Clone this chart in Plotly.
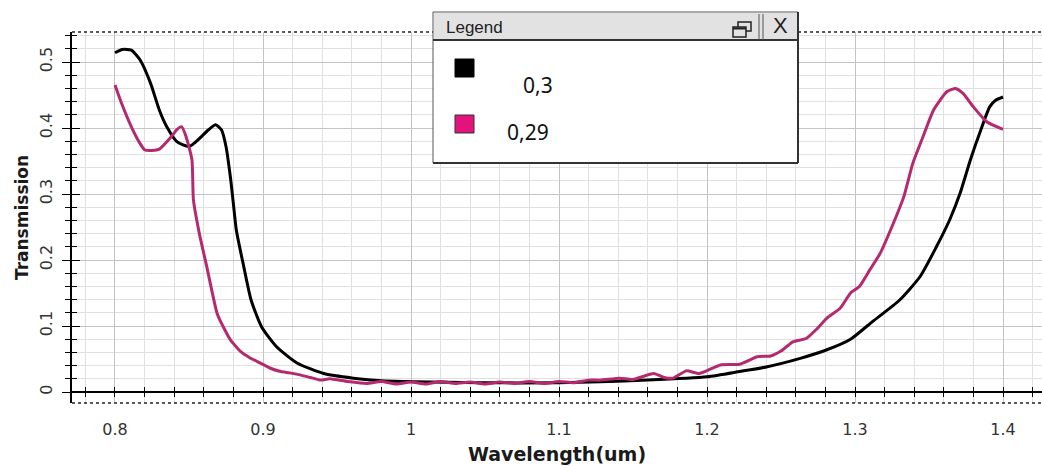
import plotly.graph_objects as go

# ---------------- data ----------------
wl_03 = [0.800, 0.805, 0.811, 0.817, 0.824, 0.830, 0.835, 0.842, 0.850, 0.857,
         0.863, 0.868, 0.872, 0.875, 0.878, 0.880, 0.882, 0.887, 0.892, 0.899, 0.909,
         0.923, 0.941, 0.961, 0.980, 1.002, 1.047, 1.100, 1.128, 1.160, 1.200,
         1.222, 1.240, 1.263, 1.281, 1.297, 1.312, 1.330, 1.344, 1.355, 1.364,
         1.371, 1.378, 1.385, 1.391, 1.395, 1.400]
t_03 = [0.514, 0.519, 0.518, 0.503, 0.468, 0.427, 0.402, 0.379, 0.372, 0.384,
        0.397, 0.405, 0.397, 0.372, 0.325, 0.285, 0.245, 0.190, 0.139, 0.099, 0.069,
        0.044, 0.028, 0.021, 0.017, 0.0157, 0.014, 0.014, 0.0157, 0.018, 0.023,
        0.031, 0.038, 0.051, 0.064, 0.080, 0.107, 0.139, 0.175, 0.220, 0.261,
        0.301, 0.352, 0.397, 0.432, 0.442, 0.447]

wl_029 = [0.800, 0.8045, 0.811, 0.816, 0.820, 0.825, 0.830, 0.837, 0.842, 0.845,
          0.848, 0.852, 0.853, 0.857, 0.862, 0.869, 0.874, 0.878, 0.885, 0.891,
          0.898, 0.905, 0.912, 0.918, 0.925, 0.932, 0.939, 0.945, 0.957, 0.970,
          0.980, 0.990, 1.000, 1.010, 1.020, 1.030, 1.040, 1.050, 1.060, 1.070,
          1.080, 1.090, 1.100, 1.110, 1.120, 1.128, 1.141, 1.150, 1.164, 1.171,
          1.177, 1.186, 1.195, 1.209, 1.222, 1.234, 1.243, 1.250, 1.258, 1.267,
          1.274, 1.281, 1.290, 1.297, 1.303, 1.310, 1.317, 1.326, 1.333, 1.339,
          1.346, 1.353, 1.362, 1.368, 1.373, 1.380, 1.389, 1.400]
t_029 = [0.465, 0.437, 0.402, 0.380, 0.367, 0.366, 0.368, 0.384, 0.398, 0.402,
         0.387, 0.352, 0.291, 0.240, 0.190, 0.119, 0.095, 0.079, 0.061, 0.052,
         0.044, 0.036, 0.031, 0.029, 0.026, 0.022, 0.018, 0.020, 0.016, 0.013,
         0.016, 0.012, 0.015, 0.012, 0.016, 0.013, 0.015, 0.012, 0.015, 0.013,
         0.016, 0.013, 0.016, 0.014, 0.018, 0.018, 0.021, 0.019, 0.028, 0.022,
         0.021, 0.032, 0.028, 0.041, 0.042, 0.0535, 0.0545, 0.062, 0.076, 0.081,
         0.095, 0.112, 0.127, 0.150, 0.160, 0.185, 0.210, 0.256, 0.296, 0.346,
         0.387, 0.427, 0.455, 0.460, 0.4525, 0.432, 0.4095, 0.398]

series_names = ["0,3", "0,29"]
series_colors = ["#000000", "#b52a6f"]
legend_swatch_colors = ["#000000", "#e4137c"]

x_title = "Wavelength(um)"
y_title = "Transmission"
legend_title = "Legend"

# ---------------- layout geometry ----------------
W, H = 1042, 466
ML, MR, MT, MB = 72, 0, 32, 63
PW, PH = W - ML - MR, H - MT - MB
X_RANGE = [0.77095, 1.42635]
Y_RANGE = [-0.01667, 0.54545]


def px(xp):
    return (xp - ML) / PW


def py(yp):
    return (H - MB - yp) / PH


y0_pos = (0 - Y_RANGE[0]) / (Y_RANGE[1] - Y_RANGE[0])

fig = go.Figure()
fig.add_trace(go.Scatter(x=wl_03, y=t_03, mode="lines", name=series_names[0],
                         line=dict(color=series_colors[0], width=3, shape="spline",
                                   smoothing=0.6)))
fig.add_trace(go.Scatter(x=wl_029, y=t_029, mode="lines", name=series_names[1],
                         line=dict(color=series_colors[1], width=3, shape="spline",
                                   smoothing=0.5)))
# empty helper traces so the overlay axes (crossing tick marks) get drawn
fig.add_trace(go.Scatter(x=[None], y=[None], xaxis="x2", yaxis="y2",
                         showlegend=False, hoverinfo="skip"))
fig.add_trace(go.Scatter(x=[None], y=[None], xaxis="x3", yaxis="y2",
                         showlegend=False, hoverinfo="skip"))

tickfont = dict(family="DejaVu Sans", size=16, color="#333333")
major_grid = "#c4c4c4"
minor_grid = "#e0e0e0"

fig.update_layout(
    width=W, height=H,
    margin=dict(l=ML, r=MR, t=MT, b=MB, pad=0),
    paper_bgcolor="white", plot_bgcolor="white",
    showlegend=False,
    xaxis=dict(
        range=X_RANGE, tick0=0.8, dtick=0.1, showgrid=True, gridcolor=major_grid,
        gridwidth=1, zeroline=False, showline=False, ticks="",
        ticklabelstandoff=15, tickfont=tickfont,
        minor=dict(dtick=0.02, tick0=0.8, showgrid=True, gridcolor=minor_grid,
                   gridwidth=1),
        title=dict(text=x_title, standoff=9,
                   font=dict(family="DejaVu Sans", size=19, color="#1a1a1a",
                             weight="bold")),
    ),
    xaxis2=dict(
        range=X_RANGE, overlaying="x", anchor="free", position=y0_pos,
        tick0=0.8, dtick=0.02, ticks="outside", ticklen=4, tickwidth=1.3,
        tickcolor="black", showticklabels=False, showgrid=False, zeroline=False,
        showline=True, linecolor="black", linewidth=1.5,
    ),
    xaxis3=dict(
        range=X_RANGE, overlaying="x", anchor="free", position=y0_pos,
        tick0=0.8, dtick=0.02, ticks="inside", ticklen=5, tickwidth=1.3,
        tickcolor="black", showticklabels=False, showgrid=False, zeroline=False,
        showline=False,
    ),
    yaxis=dict(
        range=Y_RANGE, tick0=0, dtick=0.1, showgrid=True, gridcolor=major_grid,
        zeroline=False, showline=True, linecolor="black", linewidth=1.5,
        ticks="outside", ticklen=8, tickwidth=1.3, tickcolor="black",
        tickangle=-90, tickfont=tickfont, ticklabelstandoff=4,
        minor=dict(dtick=0.02, tick0=0, showgrid=True, gridcolor=minor_grid,
                   ticks="outside", ticklen=5, tickcolor="black", tickwidth=1.2),
        title=dict(text=y_title, standoff=4,
                   font=dict(family="DejaVu Sans", size=17, color="#1a1a1a",
                             weight="bold")),
    ),
    yaxis2=dict(
        range=Y_RANGE, overlaying="y", anchor="x", side="left",
        tick0=0, dtick=0.1, ticks="inside", ticklen=8, tickwidth=1.3,
        tickcolor="black", showticklabels=False, showgrid=False, zeroline=False,
        showline=False,
        minor=dict(dtick=0.02, tick0=0, ticks="inside", ticklen=5,
                   tickcolor="black", tickwidth=1.2, showgrid=False),
    ),
)

shapes = []
# dotted frame lines (top and bottom of the plotting area)
for yy in (0, 1):
    shapes.append(dict(type="line", xref="paper", yref="paper", x0=0, x1=1,
                       y0=yy, y1=yy, line=dict(color="#222222", width=1.5,
                                               dash="dot"), layer="above"))

# legend window
L, R, T, B, TB = 433, 798, 12, 163, 40
shapes.append(dict(type="rect", xref="paper", yref="paper", x0=px(L), x1=px(R),
                   y0=py(B), y1=py(T), fillcolor="white",
                   line=dict(color="#555555", width=1), layer="above"))
shapes.append(dict(type="rect", xref="paper", yref="paper", x0=px(L + 1), x1=px(R - 1),
                   y0=py(TB), y1=py(T + 1), fillcolor="#e2e2e2",
                   line=dict(width=0), layer="above"))
shapes.append(dict(type="line", xref="paper", yref="paper", x0=px(L), x1=px(R),
                   y0=py(TB), y1=py(TB), line=dict(color="#333333", width=2),
                   layer="above"))
shapes.append(dict(type="line", xref="paper", yref="paper", x0=px(R), x1=px(R),
                   y0=py(B), y1=py(T), line=dict(color="#333333", width=2),
                   layer="above"))
shapes.append(dict(type="line", xref="paper", yref="paper", x0=px(L), x1=px(R),
                   y0=py(B), y1=py(B), line=dict(color="#333333", width=2),
                   layer="above"))
# title-bar buttons
for xx in (759, 763):
    shapes.append(dict(type="line", xref="paper", yref="paper", x0=px(xx), x1=px(xx),
                       y0=py(TB), y1=py(T + 2), line=dict(color="#555555", width=1),
                       layer="above"))
shapes.append(dict(type="rect", xref="paper", yref="paper", x0=px(738), x1=px(751),
                   y0=py(31), y1=py(22), fillcolor="#e2e2e2",
                   line=dict(color="#222222", width=1.5), layer="above"))
shapes.append(dict(type="rect", xref="paper", yref="paper", x0=px(733), x1=px(746),
                   y0=py(37), y1=py(27), fillcolor="#e2e2e2",
                   line=dict(color="#222222", width=1.5), layer="above"))
shapes.append(dict(type="line", xref="paper", yref="paper", x0=px(733), x1=px(746),
                   y0=py(28.5), y1=py(28.5), line=dict(color="#222222", width=2),
                   layer="above"))
# legend swatches
for i, yc in enumerate((68, 124)):
    shapes.append(dict(type="rect", xref="paper", yref="paper", x0=px(455), x1=px(474),
                       y0=py(yc + 9), y1=py(yc - 9), fillcolor=legend_swatch_colors[i],
                       line=dict(color="#333333" if i else "black", width=1),
                       layer="above"))

annotations = [
    dict(text=legend_title, xref="paper", yref="paper", x=px(444), y=py(27),
         xanchor="left", yanchor="middle", showarrow=False,
         font=dict(family="Liberation Sans", size=17, color="#222222")),
    dict(text="X", xref="paper", yref="paper", x=px(780), y=py(26),
         xanchor="center", yanchor="middle", showarrow=False,
         font=dict(family="Liberation Sans", size=22, color="#222222")),
    dict(text=series_names[0], xref="paper", yref="paper", x=px(521), y=py(85),
         xanchor="left", yanchor="middle", showarrow=False,
         font=dict(family="Noto Sans", size=21, color="#111111")),
    dict(text=series_names[1], xref="paper", yref="paper", x=px(505), y=py(132),
         xanchor="left", yanchor="middle", showarrow=False,
         font=dict(family="Noto Sans", size=21, color="#111111")),
]

fig.update_layout(shapes=shapes, annotations=annotations)

fig.write_html("out.html", config=dict(displayModeBar=False))
